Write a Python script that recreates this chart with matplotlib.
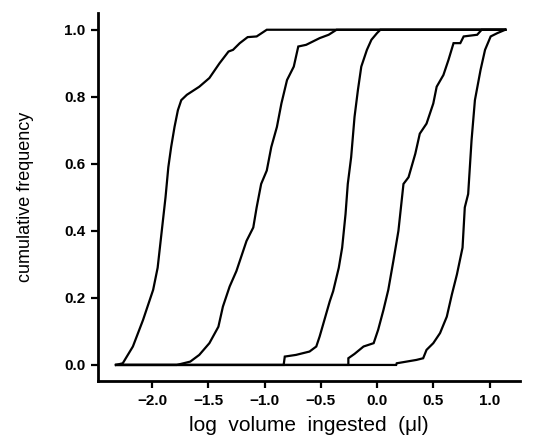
import matplotlib.pyplot as plt

# cumulative frequency curves (log volume, frequency)
x1 = [-2.32, -2.26, -2.17, -2.08, -1.99, -1.95, -1.91, -1.88, -1.855, -1.83, -1.80, -1.77, -1.74,
      -1.69, -1.58, -1.49, -1.40, -1.32, -1.28, -1.22, -1.15, -1.07, -0.98, 1.14]
y1 = [0.0, 0.005, 0.055, 0.134, 0.224, 0.29, 0.41, 0.50, 0.59, 0.65, 0.71, 0.76, 0.79,
      0.806, 0.83, 0.856, 0.90, 0.935, 0.94, 0.96, 0.978, 0.98, 1.0, 1.0]

x2 = [-2.32, -1.78, -1.66, -1.58, -1.49, -1.41, -1.37, -1.31, -1.25, -1.16, -1.10, -1.07, -1.03,
      -0.98, -0.94, -0.89, -0.85, -0.80, -0.74, -0.70, -0.63, -0.57, -0.51, -0.43, -0.36, 1.14]
y2 = [0.0, 0.0, 0.01, 0.03, 0.065, 0.114, 0.174, 0.234, 0.28, 0.37, 0.41, 0.47, 0.54,
      0.58, 0.65, 0.71, 0.78, 0.85, 0.89, 0.95, 0.955, 0.965, 0.975, 0.985, 1.0, 1.0]

x3 = [-2.32, -0.83, -0.82, -0.72, -0.60, -0.54, -0.51, -0.48, -0.42, -0.39, -0.34, -0.31, -0.28,
      -0.26, -0.23, -0.20, -0.17, -0.14, -0.09, -0.05, 0.0, 0.03, 1.14]
y3 = [0.0, 0.0, 0.025, 0.03, 0.04, 0.055, 0.085, 0.12, 0.19, 0.22, 0.29, 0.35, 0.45,
      0.54, 0.62, 0.74, 0.82, 0.89, 0.94, 0.97, 0.99, 1.0, 1.0]

x4 = [-2.32, -0.255, -0.255, -0.20, -0.12, -0.03, 0.01, 0.057, 0.10, 0.145, 0.19, 0.235, 0.28,
      0.34, 0.38, 0.44, 0.50, 0.53, 0.59, 0.635, 0.68, 0.74, 0.77, 0.89, 0.93, 1.14]
y4 = [0.0, 0.0, 0.02, 0.033, 0.055, 0.065, 0.105, 0.164, 0.224, 0.31, 0.40, 0.54, 0.56,
      0.63, 0.69, 0.72, 0.78, 0.83, 0.865, 0.91, 0.96, 0.96, 0.98, 0.985, 1.0, 1.0]

x5 = [-2.32, 0.17, 0.175, 0.35, 0.41, 0.44, 0.50, 0.56, 0.62, 0.665, 0.71, 0.76, 0.78, 0.81,
      0.84, 0.87, 0.92, 0.96, 1.01, 1.07, 1.14]
y5 = [0.0, 0.0, 0.005, 0.015, 0.02, 0.045, 0.065, 0.095, 0.144, 0.21, 0.27, 0.35, 0.47, 0.51,
      0.67, 0.79, 0.88, 0.94, 0.98, 0.99, 1.0]

xticks = [-2.0, -1.5, -1.0, -0.5, 0.0, 0.5, 1.0]
yticks = [0.0, 0.2, 0.4, 0.6, 0.8, 1.0]

plt.rcParams['font.family'] = ['Liberation Sans', 'DejaVu Sans']

fig = plt.figure(figsize=(5.43, 4.40), dpi=100)
ax = fig.add_axes([0.1805, 0.134, 0.777, 0.8365])

for xs, ys in [(x1, y1), (x2, y2), (x3, y3), (x4, y4), (x5, y5)]:
    ax.plot(xs, ys, color='black', lw=1.6, solid_joinstyle='miter')

ax.set_xlim(-2.48, 1.27)
ax.set_ylim(-0.048, 1.05)
ax.spines['top'].set_visible(False)
ax.spines['right'].set_visible(False)
ax.spines['left'].set_linewidth(2)
ax.spines['bottom'].set_linewidth(2)

ax.set_xticks(xticks)
ax.set_xticklabels([f'{v:.1f}'.replace('-', '\u2212') for v in xticks], fontweight='bold')
ax.set_yticks(yticks)
ax.set_yticklabels([f'{v:.1f}' for v in yticks], fontweight='bold')
ax.tick_params(axis='both', direction='out', length=5, width=1.6, labelsize=11, pad=4)

ax.set_xlabel('log  volume  ingested  (\u03bcl)', fontsize=15, labelpad=6)
ax.set_ylabel('cumulative frequency', fontsize=13, labelpad=22)

fig.savefig('out.png', dpi=100)
